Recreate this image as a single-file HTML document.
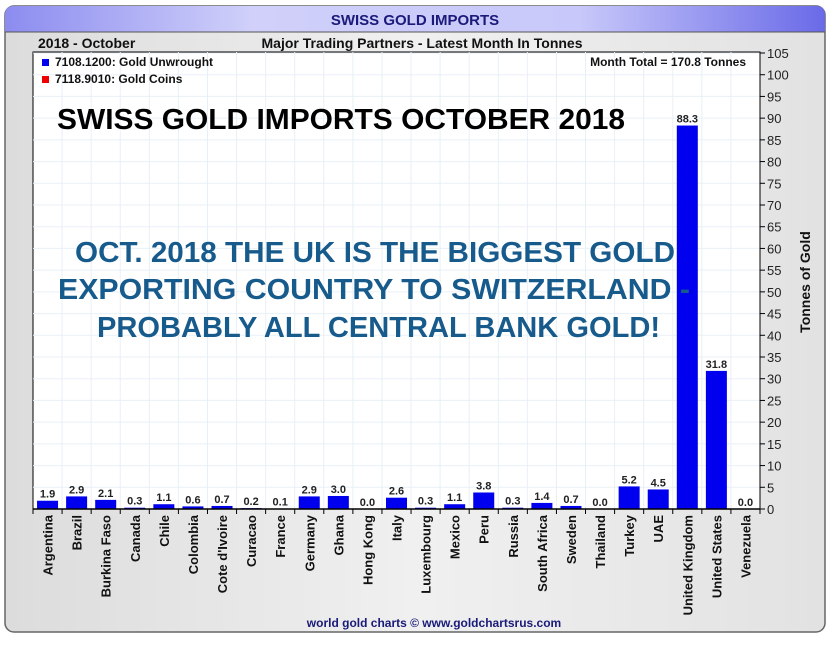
<!DOCTYPE html>
<html><head><meta charset="utf-8"><style>
body{margin:0;background:#fff;}
svg{display:block;font-family:"Liberation Sans",Arial,sans-serif;}
</style></head><body>
<svg width="840" height="647" viewBox="0 0 840 647" xmlns="http://www.w3.org/2000/svg">
<defs>
<linearGradient id="tb" x1="0" x2="1" y1="0" y2="0">
<stop offset="0" stop-color="#8c8cf0"/><stop offset="0.3" stop-color="#d0d0fa"/><stop offset="0.7" stop-color="#c8c8fa"/><stop offset="1" stop-color="#6a6ae8"/></linearGradient>
<linearGradient id="bg" x1="0" x2="1" y1="0" y2="0">
<stop offset="0" stop-color="#dcdcdc"/><stop offset="0.5" stop-color="#f0f0f0"/><stop offset="1" stop-color="#e2e2e2"/></linearGradient>
</defs>
<rect x="5" y="6" width="820" height="626" rx="9" fill="url(#bg)" stroke="#666" stroke-width="1.5"/>
<path d="M5 32 V15 Q5 6 14 6 H816 Q825 6 825 15 V32 Z" fill="url(#tb)"/>
<line x1="5" y1="32" x2="825" y2="32" stroke="#555" stroke-width="1"/>
<text x="415" y="25" text-anchor="middle" font-weight="bold" font-size="15" fill="#1a1a7a">SWISS GOLD IMPORTS</text>
<text x="38" y="48" font-weight="bold" font-size="14" fill="#111">2018 - October</text>
<text x="422" y="48" text-anchor="middle" font-weight="bold" font-size="14" fill="#111">Major Trading Partners - Latest Month In Tonnes</text>
<rect x="33" y="52" width="727" height="457" fill="#fff" stroke="#000" stroke-width="1"/>
<g id="grid" stroke="#e8f0f7" stroke-width="1"></g>
<g id="bars"></g>
<line x1="33" y1="509" x2="760" y2="509" stroke="#000" stroke-width="1.5"/>
<line x1="760" y1="52" x2="760" y2="509" stroke="#000" stroke-width="1"/>
<g id="yax" font-size="13" fill="#222"></g>
<g id="xl" font-size="13" font-weight="bold" fill="#111"></g>
<rect x="42" y="59" width="7" height="7" fill="#0000ee"/>
<text x="55" y="66" font-size="12" font-weight="bold" fill="#111">7108.1200: Gold Unwrought</text>
<rect x="42" y="76" width="7" height="7" fill="#ee0000"/>
<text x="55" y="83" font-size="12" font-weight="bold" fill="#111">7118.9010: Gold Coins</text>
<text x="746" y="66" text-anchor="end" font-size="12" font-weight="bold" fill="#111">Month Total = 170.8 Tonnes</text>
<text x="57" y="129" font-size="29" font-weight="bold" fill="#000" textLength="568" lengthAdjust="spacingAndGlyphs">SWISS GOLD IMPORTS OCTOBER 2018</text>
<g font-size="29" font-weight="bold" fill="#175a8c">
<text x="75" y="262" textLength="600" lengthAdjust="spacingAndGlyphs">OCT. 2018 THE UK IS THE BIGGEST GOLD</text>
<text x="58" y="299" textLength="632" lengthAdjust="spacingAndGlyphs">EXPORTING COUNTRY TO SWITZERLAND -</text>
<text x="97" y="337" textLength="563" lengthAdjust="spacingAndGlyphs">PROBABLY ALL CENTRAL BANK GOLD!</text>
</g>
<text x="810" y="282" transform="rotate(-90 810 282)" text-anchor="middle" font-size="14" font-weight="bold" fill="#111">Tonnes of Gold</text>
<text x="434" y="627" text-anchor="middle" font-size="12" font-weight="bold" fill="#1a1a7a">world gold charts © www.goldchartsrus.com</text>
</svg>
<script>
var ns="http://www.w3.org/2000/svg";
function el(p,t,a,txt){var e=document.createElementNS(ns,t);for(var k in a)e.setAttribute(k,a[k]);if(txt!==undefined)e.textContent=txt;p.appendChild(e);return e;}
var names=["Argentina","Brazil","Burkina Faso","Canada","Chile","Colombia","Cote d'Ivoire","Curacao","France","Germany","Ghana","Hong Kong","Italy","Luxembourg","Mexico","Peru","Russia","South Africa","Sweden","Thailand","Turkey","UAE","United Kingdom","United States","Venezuela"];
var vals=[1.9,2.9,2.1,0.3,1.1,0.6,0.7,0.2,0.1,2.9,3.0,0.0,2.6,0.3,1.1,3.8,0.3,1.4,0.7,0.0,5.2,4.5,88.3,31.8,0.0];
var L=33,R=760,B=509,s=(R-L)/25,k=456/105;
var g=document.getElementById("grid"),b=document.getElementById("bars"),y=document.getElementById("yax"),x=document.getElementById("xl");
for(var v=5;v<=105;v+=5){var yy=B-v*k;el(g,"line",{x1:L,x2:R,y1:yy,y2:yy});}
for(var i=1;i<25;i++){var xx=L+i*s;el(g,"line",{x1:xx,x2:xx,y1:52,y2:B});}
for(var v=0;v<=105;v+=5){var yy=B-v*k;el(y,"line",{x1:R,x2:R+5,y1:yy,y2:yy,stroke:"#000"});el(y,"text",{x:R+7,y:yy+5},v);}
for(var i=0;i<=25;i++){var xx=L+i*s;el(y,"line",{x1:xx,x2:xx,y1:B,y2:B+5,stroke:"#000"});}
for(var i=0;i<25;i++){var c=L+s*(i+.5),h=vals[i]*k;
 el(b,"rect",{x:c-10.5,y:B-h,width:21,height:h,fill:"#0000ee"});
 el(b,"text",{x:c,y:B-h-3,"text-anchor":"middle","font-size":"11","font-weight":"bold",fill:"#222"},vals[i].toFixed(1));
 el(x,"text",{x:c+5,y:515,"text-anchor":"end",transform:"rotate(-90 "+(c+5)+" 515)"},names[i]);}
</script>
</body></html>
